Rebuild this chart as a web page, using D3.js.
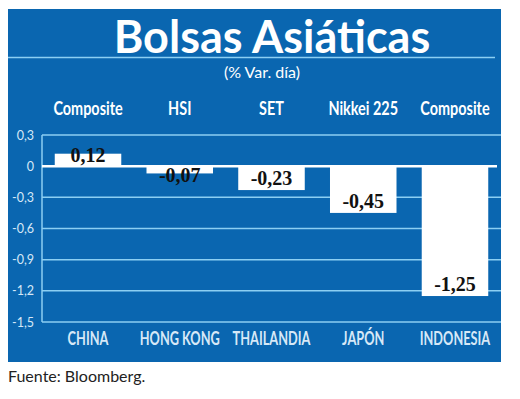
<!DOCTYPE html>
<html>
<head>
<meta charset="utf-8">
<script src="https://cdn.jsdelivr.net/npm/d3@7"></script>
<style>
  body { margin: 0; background: #fff; }
  svg { display: block; }
</style>
</head>
<body>
<svg class="chart"></svg>
<script>
// data
let countries = ["CHINA", "HONG KONG", "THAILANDIA", "JAPÓN", "INDONESIA"];
let indices = ["Composite", "HSI", "SET", "Nikkei 225", "Composite"];
let values = [0.12, -0.07, -0.23, -0.45, -1.25];
let yTicks = [0.3, 0, -0.3, -0.6, -0.9, -1.2, -1.5];

let blue = '#0a66b0';
let gridBlue = '#8ccff3';

// spanish style numbers with a plain hyphen
let fmt = (spec) => (d) => d3.format(spec)(d).replace('−', '-').replace('.', ',');

let svg = d3.select('.chart')
            .attr('width', 520)
            .attr('height', 399);

// blue panel
svg.append('rect')
   .attr('x', 8)
   .attr('y', 9)
   .attr('width', 493)
   .attr('height', 353)
   .attr('fill', blue);

svg.append('text')
   .attr('x', 272)
   .attr('y', 53)
   .attr('text-anchor', 'middle')
   .attr('fill', '#fff')
   .style('font-family', 'Lato, "Open Sans", sans-serif')
   .style('font-weight', 'bold')
   .style('font-size', '45px')
   .text('Bolsas Asiáticas');

svg.append('line')
   .attr('x1', 8)
   .attr('x2', 495)
   .attr('y1', 57.5)
   .attr('y2', 57.5)
   .attr('stroke', gridBlue)
   .attr('stroke-width', 1.5);

svg.append('text')
   .attr('x', 262)
   .attr('y', 78)
   .attr('text-anchor', 'middle')
   .attr('fill', '#fff')
   .style('font-family', 'Lato, "Open Sans", sans-serif')
   .style('font-size', '16px')
   .text('(% Var. día)');

let xScale = d3.scaleBand()
               .domain(d3.range(values.length))
               .range([42, 501])
               .paddingInner(0.275)
               .paddingOuter(0.139);

let yScale = d3.scaleLinear()
               .domain([0.3, -1.5])
               .range([135, 322]);

// gridlines
svg.append('g')
   .selectAll('line')
   .data(yTicks.filter((d) => d !== 0))
   .enter()
   .append('line')
   .attr('x1', 42)
   .attr('x2', 501)
   .attr('y1', (d) => yScale(d))
   .attr('y2', (d) => yScale(d))
   .attr('stroke', gridBlue)
   .attr('stroke-width', 1.5);

svg.append('line')
   .attr('x1', 42)
   .attr('x2', 42)
   .attr('y1', yScale(0.3))
   .attr('y2', yScale(-1.5))
   .attr('stroke', gridBlue)
   .attr('stroke-width', 1.5);

let yAxis = d3.axisLeft(yScale)
              .tickValues(yTicks)
              .tickSize(0)
              .tickPadding(8)
              .tickFormat((d) => d === 0 ? '0' : fmt('.1f')(d));

let yg = svg.append('g')
            .attr('transform', 'translate(42,0)')
            .call(yAxis);
yg.select('.domain').remove();
yg.selectAll('text')
  .attr('fill', '#d6e8f7')
  .style('font-family', 'Lato, "Open Sans", sans-serif')
  .style('font-size', '12.5px');

// bars
svg.append('g')
   .selectAll('rect')
   .data(values)
   .enter()
   .append('rect')
   .attr('x', (d, i) => xScale(i))
   .attr('y', (d) => yScale(Math.max(0, d)))
   .attr('width', xScale.bandwidth())
   .attr('height', (d) => Math.abs(yScale(d) - yScale(0)))
   .attr('fill', '#fff');

// zero line
svg.append('line')
   .attr('x1', 42)
   .attr('x2', 497)
   .attr('y1', yScale(0))
   .attr('y2', yScale(0))
   .attr('stroke', '#fff')
   .attr('stroke-width', 2.5);

// value labels
svg.append('g')
   .selectAll('text')
   .data(values)
   .enter()
   .append('text')
   .attr('x', (d, i) => xScale(i) + xScale.bandwidth() / 2)
   .attr('y', (d) => d > 0 ? yScale(0) - 4 : Math.max(yScale(d), yScale(0) + 21) - 5)
   .attr('text-anchor', 'middle')
   .attr('fill', '#111')
   .style('font-family', '"Liberation Serif", "DejaVu Serif", serif')
   .style('font-weight', 'bold')
   .style('font-size', '20px')
   .text((d) => fmt('.2f')(d));

let labelFont = 'Lato, "Open Sans", sans-serif';

// index names on top (squeezed, no condensed font installed)
svg.append('g')
   .selectAll('text')
   .data(indices)
   .enter()
   .append('text')
   .attr('transform', (d, i) => 'translate(' + (xScale(i) + xScale.bandwidth() / 2) + ',115) scale(0.76,1)')
   .attr('text-anchor', 'middle')
   .attr('fill', '#fff')
   .style('font-family', labelFont)
   .style('font-weight', 'bold')
   .style('font-size', '19px')
   .text((d) => d);

// country names below
svg.append('g')
   .selectAll('text')
   .data(countries)
   .enter()
   .append('text')
   .attr('transform', (d, i) => 'translate(' + (xScale(i) + xScale.bandwidth() / 2) + ',345) scale(0.71,1)')
   .attr('text-anchor', 'middle')
   .attr('fill', '#d6e8f7')
   .style('font-family', labelFont)
   .style('font-weight', 'bold')
   .style('font-size', '18px')
   .text((d) => d);

svg.append('text')
   .attr('x', 8)
   .attr('y', 382)
   .attr('fill', '#222')
   .style('font-family', 'Lato, "Open Sans", sans-serif')
   .style('font-size', '16px')
   .text('Fuente: Bloomberg.');
</script>
</body>
</html>
